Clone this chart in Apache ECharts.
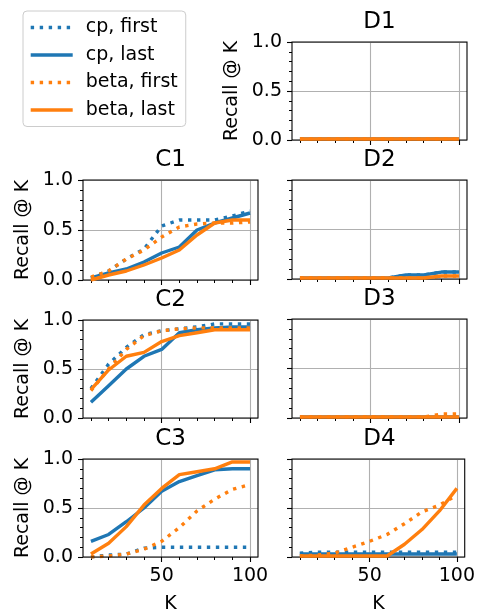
<!DOCTYPE html>
<html><head><meta charset="utf-8">
<script src="https://cdn.jsdelivr.net/npm/echarts@6/dist/echarts.min.js"></script>
<style>html,body{margin:0;padding:0;background:#fff}#c{width:478px;height:615px}</style>
</head><body><div id="c"></div>
<script>
// ---- data ----
const K = [10, 20, 30, 40, 50, 60, 70, 80, 90, 100];
const xMajorTicks = [50, 100];
const xMinorTicks = [10, 20, 30, 40, 60, 70, 80, 90];
const seriesNames = ['cp, first', 'cp, last', 'beta, first', 'beta, last'];

const c1CpFirst   = [0.02, 0.09, 0.21, 0.31, 0.54, 0.60, 0.60, 0.60, 0.64, 0.69];
const c1CpLast    = [0.02, 0.07, 0.11, 0.18, 0.27, 0.33, 0.50, 0.57, 0.62, 0.67];
const c1BetaFirst = [0.03, 0.09, 0.21, 0.30, 0.43, 0.53, 0.56, 0.57, 0.57, 0.58];
const c1BetaLast  = [0.00, 0.05, 0.09, 0.15, 0.22, 0.30, 0.45, 0.57, 0.60, 0.60];

const c2CpFirst   = [0.30, 0.55, 0.72, 0.85, 0.89, 0.91, 0.93, 0.96, 0.96, 0.96];
const c2CpLast    = [0.16, 0.33, 0.50, 0.63, 0.70, 0.87, 0.90, 0.92, 0.93, 0.93];
const c2BetaFirst = [0.28, 0.50, 0.70, 0.84, 0.89, 0.91, 0.92, 0.92, 0.92, 0.92];
const c2BetaLast  = [0.29, 0.49, 0.63, 0.67, 0.78, 0.84, 0.87, 0.90, 0.90, 0.90];

const c3CpFirst   = [0.00, 0.02, 0.03, 0.09, 0.10, 0.10, 0.10, 0.10, 0.10, 0.10];
const c3CpLast    = [0.16, 0.23, 0.36, 0.50, 0.67, 0.77, 0.83, 0.89, 0.90, 0.90];
const c3BetaFirst = [0.00, 0.01, 0.03, 0.08, 0.16, 0.30, 0.47, 0.59, 0.69, 0.74];
const c3BetaLast  = [0.03, 0.14, 0.31, 0.53, 0.70, 0.84, 0.87, 0.90, 0.97, 0.97];

const d1CpFirst   = [0.01, 0.01, 0.01, 0.01, 0.01, 0.01, 0.01, 0.01, 0.01, 0.01];
const d1CpLast    = [0.01, 0.01, 0.01, 0.01, 0.01, 0.01, 0.01, 0.01, 0.01, 0.01];
const d1BetaFirst = [0.01, 0.01, 0.01, 0.01, 0.01, 0.01, 0.01, 0.01, 0.01, 0.01];
const d1BetaLast  = [0.01, 0.01, 0.01, 0.01, 0.01, 0.01, 0.01, 0.01, 0.01, 0.01];

const d2CpFirst   = [0.01, 0.01, 0.01, 0.01, 0.01, 0.01, 0.04, 0.04, 0.07, 0.07];
const d2CpLast    = [0.01, 0.01, 0.01, 0.01, 0.01, 0.01, 0.04, 0.04, 0.07, 0.07];
const d2BetaFirst = [0.01, 0.01, 0.01, 0.01, 0.01, 0.01, 0.01, 0.01, 0.03, 0.03];
const d2BetaLast  = [0.01, 0.01, 0.01, 0.01, 0.01, 0.01, 0.01, 0.01, 0.03, 0.03];

const d3CpFirst   = [0.01, 0.01, 0.01, 0.01, 0.01, 0.01, 0.01, 0.01, 0.01, 0.01];
const d3CpLast    = [0.01, 0.01, 0.01, 0.01, 0.01, 0.01, 0.01, 0.01, 0.01, 0.01];
const d3BetaFirst = [0.01, 0.01, 0.01, 0.01, 0.01, 0.01, 0.01, 0.01, 0.04, 0.04];
const d3BetaLast  = [0.01, 0.01, 0.01, 0.01, 0.01, 0.01, 0.01, 0.01, 0.01, 0.01];

const d4CpFirst   = [0.04, 0.05, 0.05, 0.05, 0.05, 0.05, 0.05, 0.05, 0.05, 0.05];
const d4CpLast    = [0.03, 0.03, 0.03, 0.03, 0.03, 0.03, 0.03, 0.03, 0.03, 0.03];
const d4BetaFirst = [0.01, 0.02, 0.04, 0.10, 0.16, 0.23, 0.34, 0.46, 0.53, 0.63];
const d4BetaLast  = [0.01, 0.01, 0.01, 0.01, 0.01, 0.01, 0.13, 0.28, 0.47, 0.70];

// ---- layout / style ----
const FONT = 'DejaVu Sans';
const BLUE = '#1f77b4', ORANGE = '#ff7f0e';
const LW = 3.4;
const panels = [
  { title: 'D1', left: 292, top: 42,  h: 98,  yLab: true,  xLab: false, d: [d1CpFirst, d1CpLast, d1BetaFirst, d1BetaLast] },
  { title: 'C1', left: 83,  top: 180, h: 100, yLab: true,  xLab: false, d: [c1CpFirst, c1CpLast, c1BetaFirst, c1BetaLast] },
  { title: 'D2', left: 292, top: 180, h: 99,  yLab: false, xLab: false, d: [d2CpFirst, d2CpLast, d2BetaFirst, d2BetaLast] },
  { title: 'C2', left: 83,  top: 320, h: 98,  yLab: true,  xLab: false, d: [c2CpFirst, c2CpLast, c2BetaFirst, c2BetaLast] },
  { title: 'D3', left: 292, top: 319, h: 99,  yLab: false, xLab: false, d: [d3CpFirst, d3CpLast, d3BetaFirst, d3BetaLast] },
  { title: 'C3', left: 83,  top: 459, h: 99,  yLab: true,  xLab: true,  d: [c3CpFirst, c3CpLast, c3BetaFirst, c3BetaLast] },
  { title: 'D4', left: 292, top: 459, h: 99,  yLab: false, xLab: true,  d: [d4CpFirst, d4CpLast, d4BetaFirst, d4BetaLast] }
];
const W = 175;
const seriesStyle = [
  { color: BLUE,   type: [3.4, 5.6] },
  { color: BLUE,   type: 'solid' },
  { color: ORANGE, type: [3.4, 5.6] },
  { color: ORANGE, type: 'solid' }
];

const grid = [], xAxis = [], yAxis = [], series = [], title = [];
panels.forEach((p, i) => {
  grid.push({ left: p.left, top: p.top, width: W, height: p.h, show: true,
    borderColor: '#000', borderWidth: 1.1, backgroundColor: 'transparent', z: 5 });
  xAxis.push({
    type: 'value', gridIndex: i, min: 5.5, max: 104.5, position: 'bottom',
    axisLine: { show: false, onZero: false },
    axisTick: { show: true, customValues: xMajorTicks, length: 5, lineStyle: { color: '#000', width: 1.1 } },
    axisLabel: { show: p.xLab, customValues: xMajorTicks, fontSize: 19, fontFamily: FONT, color: '#000', margin: 10 },
    splitLine: { show: true, lineStyle: { color: '#b0b0b0', width: 1.1 } },
    name: p.xLab ? 'K' : '', nameLocation: 'middle', nameGap: 38,
    nameTextStyle: { fontSize: 19, fontFamily: FONT, color: '#000' }
  });
  xAxis.push({
    type: 'value', gridIndex: i, min: 5.5, max: 104.5, position: 'bottom',
    axisLine: { show: false, onZero: false },
    axisTick: { show: true, customValues: xMinorTicks, length: 3, lineStyle: { color: '#000', width: 1 } },
    axisLabel: { show: false },
    splitLine: { show: false }
  });
  yAxis.push({
    type: 'value', gridIndex: i, min: 0, max: 1, interval: 0.5,
    axisLine: { show: false, onZero: false },
    axisTick: { show: true, length: 5, lineStyle: { color: '#000', width: 1.1 } },
    minorTick: { show: true, splitNumber: 5, length: 3, lineStyle: { color: '#000', width: 1 } },
    minorSplitLine: { show: false },
    axisLabel: { show: p.yLab, formatter: v => v.toFixed(1), fontSize: 19, fontFamily: FONT, color: '#000', margin: 10 },
    splitLine: { show: true, lineStyle: { color: '#b0b0b0', width: 1.1 } },
    name: p.yLab ? 'Recall @ K' : '', nameLocation: 'middle', nameRotate: 90, nameGap: 50,
    nameTextStyle: { fontSize: 19, fontFamily: FONT, color: '#000' }
  });
  p.d.forEach((vals, s) => {
    series.push({
      name: seriesNames[s], type: 'line', xAxisIndex: 2 * i, yAxisIndex: i,
      data: K.map((k, j) => [k, vals[j]]), symbol: 'none', silent: true,
      color: seriesStyle[s].color,
      lineStyle: { color: seriesStyle[s].color, width: LW, type: seriesStyle[s].type, cap: 'butt' },
      z: 2 + s
    });
  });
  title.push({ text: p.title, left: p.left + W / 2, top: p.top - 31, textAlign: 'center', padding: 0,
    textStyle: { fontSize: 23, fontWeight: 'normal', fontFamily: FONT, color: '#000' } });
});

const chart = echarts.init(document.getElementById('c'), null, { renderer: 'canvas' });
chart.setOption({
  animation: false,
  backgroundColor: '#fff',
  title, grid, xAxis, yAxis, series,
  legend: {
    data: seriesNames, orient: 'vertical', left: 23, top: 11, selectedMode: false,
    padding: [7, 8, 7, 6], itemWidth: 42, itemHeight: 14, itemGap: 8.5,
    borderColor: '#cccccc', borderWidth: 1, borderRadius: 4, backgroundColor: '#fff',
    itemStyle: { color: 'rgba(0,0,0,0)', borderColor: 'rgba(0,0,0,0)', borderWidth: 0, opacity: 0 },
    lineStyle: { width: LW },
    textStyle: { fontSize: 19, fontFamily: FONT, color: '#000', lineHeight: 19, padding: [0, 0, 0, 8] }
  }
});
</script></body></html>
